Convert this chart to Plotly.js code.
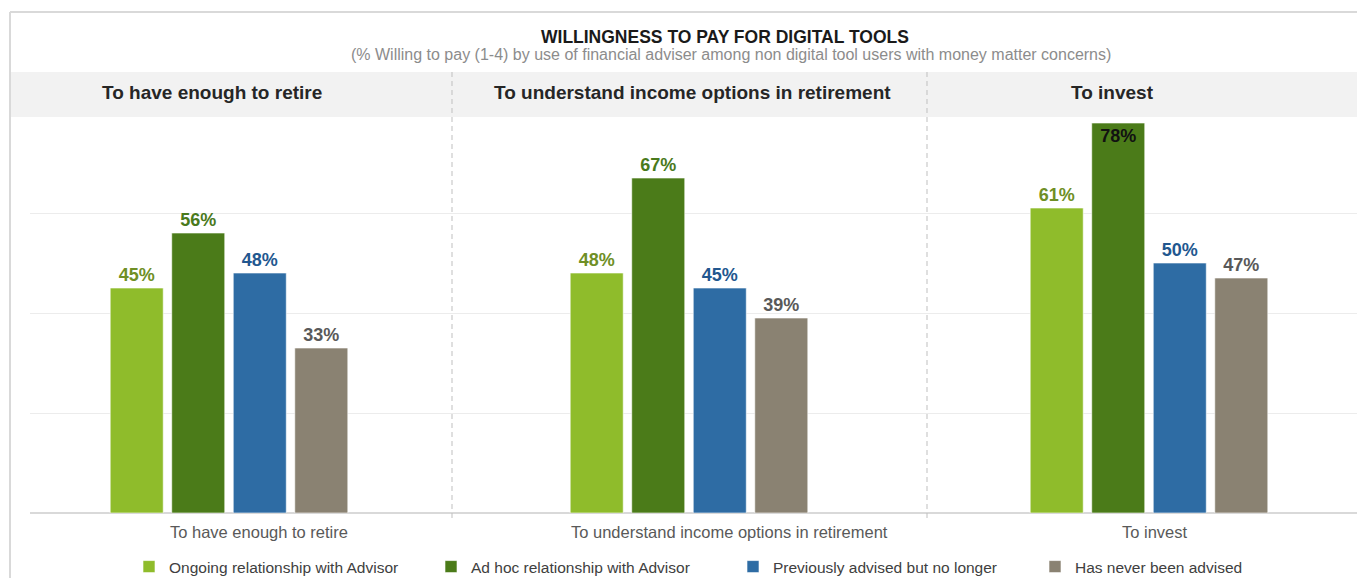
<!DOCTYPE html>
<html>
<head>
<meta charset="utf-8">
<script src="https://cdn.plot.ly/plotly-3.0.1.min.js"></script>
<style>
  html, body { margin: 0; padding: 0; background: #ffffff; }
  #chart { width: 1357px; height: 578px; }
</style>
</head>
<body>
<div id="chart"></div>
<script>
// Goals asked about, in the order they are shown
const categories = [
  "To have enough to retire",
  "To understand income options in retirement",
  "To invest"
];

// Series: use of a financial adviser
const seriesNames = [
  "Ongoing relationship with Advisor",
  "Ad hoc relationship with Advisor",
  "Previously advised but no longer",
  "Has never been advised"
];

// % willing to pay (1-4), per goal
const ongoingValues  = [45, 48, 61];
const adHocValues    = [56, 67, 78];
const previousValues = [48, 45, 50];
const neverValues    = [33, 39, 47];

const chartTitle = "WILLINGNESS TO PAY FOR DIGITAL TOOLS";
const chartSubtitle = "(% Willing to pay (1-4) by use of financial adviser among non digital tool users with money matter concerns)";

const barColors   = ["#8fbc2b", "#4b7b19", "#2e6ca4", "#8a8272"];
const labelColors = ["#6f8f26", "#4a7a1d", "#22578f", "#595959"];
const seriesValues = [ongoingValues, adHocValues, previousValues, neverValues];

const xPos = categories.map((c, i) => i);
const FONT = "Liberation Sans, Arial, sans-serif";

const traces = seriesValues.map((vals, s) => {
  // A bar reaching the header band carries its label inside the bar top
  const inside = vals.map(v => v >= 75);
  return {
    type: "bar",
    name: seriesNames[s],
    x: xPos,
    y: vals,
    text: vals.map(v => v + "%"),
    textposition: inside.map(f => f ? "inside" : "outside"),
    insidetextanchor: "end",
    textangle: 0,
    constraintext: "none",
    cliponaxis: false,
    textfont: {
      family: FONT,
      size: 18,
      weight: "bold",
      color: inside.map(f => f ? "#111111" : labelColors[s])
    },
    marker: { color: barColors[s], line: { color: "rgba(255,255,255,0.6)", width: 1 } },
    hoverinfo: "skip"
  };
});

// Pixel helpers for paper coordinates (plot area: x 30..1357, y 113..513)
const W = 1357, H = 578, L = 30, T = 113, B = 513;
const px = x => (x - L) / (W - L);
const py = y => (B - y) / (B - T);

const headerX = [212, 692, 1112];
const labelX  = [259, 729, 1155];

function note(text, x, y, size, color) {
  return { text: text, x: px(x), y: py(y), xref: "paper", yref: "paper",
    xanchor: "center", yanchor: "middle", showarrow: false,
    font: { family: FONT, size: size, color: color } };
}

const annotations = [
  note("<b>" + chartTitle + "</b>", 725, 37, 17.5, "#1a1a1a"),
  note(chartSubtitle, 731, 55, 16, "#8c8c8c")
];
categories.forEach((c, i) => {
  annotations.push(note("<b>" + c + "</b>", headerX[i], 93, 19, "#262626"));
  annotations.push(note(c, labelX[i], 532, 16.5, "#595959"));
});

const shapes = [
  // header band
  { type: "rect", xref: "paper", yref: "paper", x0: px(11), x1: px(1357), y0: py(117), y1: py(72),
    fillcolor: "#f2f2f2", line: { width: 0 }, layer: "below" },
  // outer frame
  { type: "line", xref: "paper", yref: "paper", x0: px(10), x1: px(10), y0: py(12), y1: py(578),
    line: { color: "#d9d9d9", width: 2 } },
  { type: "line", xref: "paper", yref: "paper", x0: px(10), x1: px(1357), y0: py(12), y1: py(12),
    line: { color: "#d9d9d9", width: 2 } },
  // panel separators
  { type: "line", xref: "paper", yref: "paper", x0: px(452), x1: px(452), y0: py(72), y1: py(520),
    line: { color: "#bfbfbf", width: 1, dash: "5px,4px" } },
  { type: "line", xref: "paper", yref: "paper", x0: px(927), x1: px(927), y0: py(72), y1: py(520),
    line: { color: "#bfbfbf", width: 1, dash: "5px,4px" } }
];

const layout = {
  width: W, height: H,
  margin: { l: L, r: 0, t: T, b: H - B, pad: 0, autoexpand: false },
  paper_bgcolor: "#ffffff",
  plot_bgcolor: "rgba(0,0,0,0)",
  barmode: "group",
  bargap: 0.465,
  bargroupgap: 0.138,
  font: { family: FONT },
  xaxis: {
    range: [(L - 229) / 460, (W - 229) / 460],
    showticklabels: false, showgrid: false, zeroline: false, ticks: "", fixedrange: true
  },
  yaxis: {
    range: [0, 80],
    tickvals: [0, 20, 40, 60],
    showticklabels: false, ticks: "",
    showgrid: true, gridcolor: "#ececec", gridwidth: 1,
    zeroline: true, zerolinecolor: "#d9d9d9", zerolinewidth: 2, fixedrange: true
  },
  showlegend: true,
  legend: {
    orientation: "h",
    xref: "container", yref: "container",
    x: 129 / W, xanchor: "left",
    y: 1 - 550 / H, yanchor: "top",
    entrywidth: 257, entrywidthmode: "pixels",
    font: { family: FONT, size: 15.5, color: "#404040" },
    itemclick: false, itemdoubleclick: false,
    bgcolor: "rgba(0,0,0,0)"
  },
  annotations: annotations,
  shapes: shapes
};

Plotly.newPlot("chart", traces, layout, { displayModeBar: false, staticPlot: true });
</script>
</body>
</html>
